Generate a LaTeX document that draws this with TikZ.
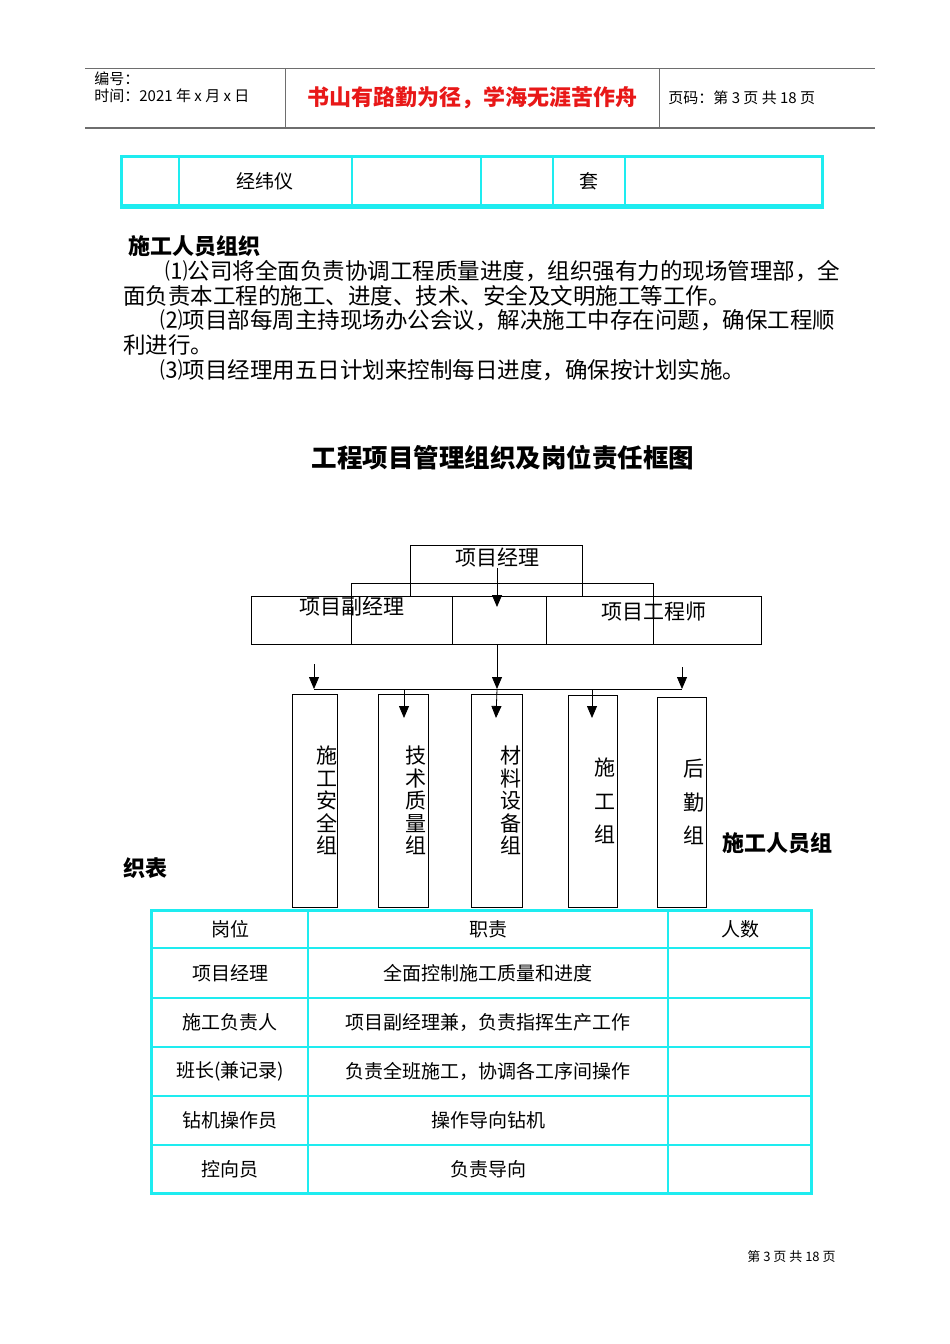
\documentclass[tikz,border=0pt]{standalone}
\usepackage{fontspec}
\setmainfont{Noto Sans CJK SC}
\usetikzlibrary{arrows.meta,positioning}
\definecolor{tablecyan}{RGB}{30,236,240}
\definecolor{headred}{RGB}{232,24,24}
\definecolor{headgray}{RGB}{110,110,110}

\begin{document}
\begin{tikzpicture}[
                x=1pt, y=-1pt,
                line width=0.8pt,
                >={Triangle[length=12pt,width=10pt]},
                % Stili per i testi
                small/.style={inner sep=0pt, font=\fontsize{15}{18}\selectfont},
                body/.style={anchor=west, inner sep=0pt, font=\fontsize{22.5}{25}\selectfont},
                heading/.style={inner sep=0pt, font=\bfseries\fontsize{22}{25}\selectfont},
                cell/.style={inner sep=0pt, font=\fontsize{19}{21}\selectfont},
                orgtxt/.style={inner sep=0pt, font=\fontsize{21}{22}\selectfont},
                % Stile per i riquadri dell'organigramma
                orgbox/.style={draw, inner sep=0pt},
                vtext/.style={align=center, inner sep=0pt, font=\fontsize{21}{22.5}\selectfont},
                vtextwide/.style={align=center, inner sep=0pt, font=\fontsize{21}{33.5}\selectfont},
                % Linee delle tabelle
                frame/.style={draw=tablecyan, line width=3pt},
                grid/.style={draw=tablecyan, line width=1.3pt}
            ]

                \useasboundingbox (0,0) rectangle (950,1344);
                \fill[white] (0,0) rectangle (950,1344);

                % ========================================================
                % 1. Intestazione
                % ========================================================
                \draw[headgray, line width=0.9pt] (85,68) -- (875,68);
                \draw[headgray, line width=1.8pt] (85,128) -- (875,128);
                \draw[headgray] (285,68) -- (285,128);
                \draw[headgray] (659,68) -- (659,128);

                \node[small, anchor=west] (code) at (94,79) {编号：};
                \node[small, anchor=west] (date) at (94,96) {时间：2021 年 x 月 x 日};
                \node[inner sep=0pt, text=headred, font=\bfseries\fontsize{22}{24}\selectfont] (motto) at (472,98) {书山有路勤为径，学海无涯苦作舟};
                \node[small, anchor=west] (pageno) at (668,98) {页码：第 3 页 共 18 页};

                % ========================================================
                % 2. Tabella superiore
                % ========================================================
                \draw[frame] (121,156) rectangle (822,207);
                \draw[draw=tablecyan, line width=4pt] (121,206) -- (822,206);
                \draw[grid] (179,156) -- (179,207);
                \draw[grid] (352,156) -- (352,207);
                \draw[grid] (481,156) -- (481,207);
                \draw[grid] (553,156) -- (553,207);
                \draw[grid] (625,156) -- (625,207);
                \node[cell] (jingwei) at (265,181) {经纬仪};
                \node[cell] (tao) at (589,181) {套};

                % ========================================================
                % 3. Testo
                % ========================================================
                \node[heading, anchor=west] (org_title) at (128,246) {施工人员组织};
                \node[body] (line1) at (165,271) {⑴公司将全面负责协调工程质量进度，组织强有力的现场管理部，全};
                \node[body] (line2) at (123,296) {面负责本工程的施工、进度、技术、安全及文明施工等工作。};
                \node[body] (line3) at (160,320) {⑵项目部每周主持现场办公会议，解决施工中存在问题，确保工程顺};
                \node[body] (line4) at (123,345) {利进行。};
                \node[body] (line5) at (160,370) {⑶项目经理用五日计划来控制每日进度，确保按计划实施。};

                \node[inner sep=0pt, font=\bfseries\fontsize{25.5}{28}\selectfont] (chart_title) at (503,458) {工程项目管理组织及岗位责任框图};

                % ========================================================
                % 4. Organigramma: livelli superiori
                % ========================================================
                \node[orgbox, minimum width=172, minimum height=51] (pm) at (496,570.5) {};
                \node[orgtxt] (pm_txt) at (497,558) {项目经理};

                % Riquadro di collegamento
                \draw (351,644) -- (351,583) -- (653,583) -- (653,644);

                \node[orgbox, minimum width=201, minimum height=48] (vpm) at (351.5,620) {};
                \node[orgbox, minimum width=94, minimum height=48] (mid) at (499,620) {};
                \node[orgbox, minimum width=215, minimum height=48] (eng) at (653.5,620) {};
                \node[orgtxt] (vpm_txt) at (352,607) {项目副经理};
                \node[orgtxt] (eng_txt) at (654,612) {项目工程师};

                % Freccia dal capo progetto
                \coordinate (pm_tip) at (497,607);
                \draw[->] (pm_txt.south -| pm_tip) -- (pm_tip);

                % ========================================================
                % 5. Linea di distribuzione
                % ========================================================
                \coordinate (bus_l) at (314,689);
                \coordinate (bus_c) at (497,689);
                \coordinate (bus_r) at (682,689);
                \draw (bus_l) -- (bus_r);
                \draw[->] (mid.south -| bus_c) -- (bus_c);
                \draw[->] (314,664) -- (bus_l);
                \draw[->] (682,667) -- (bus_r);

                % ========================================================
                % 6. Gruppi operativi
                % ========================================================
                \node[orgbox, minimum width=45, minimum height=213,
                      label={[vtext, xshift=12pt]center:施\\工\\安\\全\\组}] (safety) at (314.5,800.5) {};
                \node[orgbox, minimum width=50, minimum height=213,
                      label={[vtext, xshift=13pt]center:技\\术\\质\\量\\组}] (quality) at (403,800.5) {};
                \node[orgbox, minimum width=51, minimum height=213,
                      label={[vtext, xshift=14.5pt]center:材\\料\\设\\备\\组}] (material) at (496.5,800.5) {};
                \node[orgbox, minimum width=49, minimum height=212,
                      label={[vtextwide, xshift=12.5pt]center:施\\工\\组}] (crew) at (592.5,801) {};
                \node[orgbox, minimum width=49, minimum height=210,
                      label={[vtextwide, xshift=12.5pt]center:后\\勤\\组}] (logistics) at (681.5,802) {};

                % Frecce verso i gruppi
                \draw[->] (404,689) -- (404,718);
                \draw[->] (bus_c) -- (496,718);
                \draw[->] (592,689) -- (592,718);

                \node[heading, anchor=west] (crew_title_a) at (722,843) {施工人员组};
                \node[heading, anchor=west] (crew_title_b) at (123,868) {织表};

                % ========================================================
                % 7. Tabella inferiore
                % ========================================================
                \draw[grid] (308,910) -- (308,1193);
                \draw[grid] (668,910) -- (668,1193);
                \draw[grid] (151,948) -- (811,948);
                \draw[grid] (151,998) -- (811,998);
                \draw[grid] (151,1047) -- (811,1047);
                \draw[grid] (151,1096) -- (811,1096);
                \draw[grid] (151,1145) -- (811,1145);
                \draw[frame] (151,910) rectangle (811,1193);

                \node[cell] (h_post) at (230,929) {岗位};
                \node[cell] (h_duty) at (488,929) {职责};
                \node[cell] (h_num) at (740,929) {人数};

                \node[cell] (p1) at (230,973) {项目经理};
                \node[cell] (d1) at (488,973) {全面控制施工质量和进度};
                \node[cell] (p2) at (230,1022) {施工负责人};
                \node[cell] (d2) at (488,1022) {项目副经理兼，负责指挥生产工作};
                \node[cell] (p3) at (230,1071) {班长(兼记录)};
                \node[cell] (d3) at (488,1071) {负责全班施工，协调各工序间操作};
                \node[cell] (p4) at (230,1120) {钻机操作员};
                \node[cell] (d4) at (488,1120) {操作导向钻机};
                \node[cell] (p5) at (230,1169) {控向员};
                \node[cell] (d5) at (488,1169) {负责导向};

                % ========================================================
                % 8. Piè di pagina
                % ========================================================
                \node[inner sep=0pt, anchor=east, font=\fontsize{13}{15}\selectfont] (footer) at (836,1257) {第 3 页 共 18 页};

            \end{tikzpicture}
\end{document}
